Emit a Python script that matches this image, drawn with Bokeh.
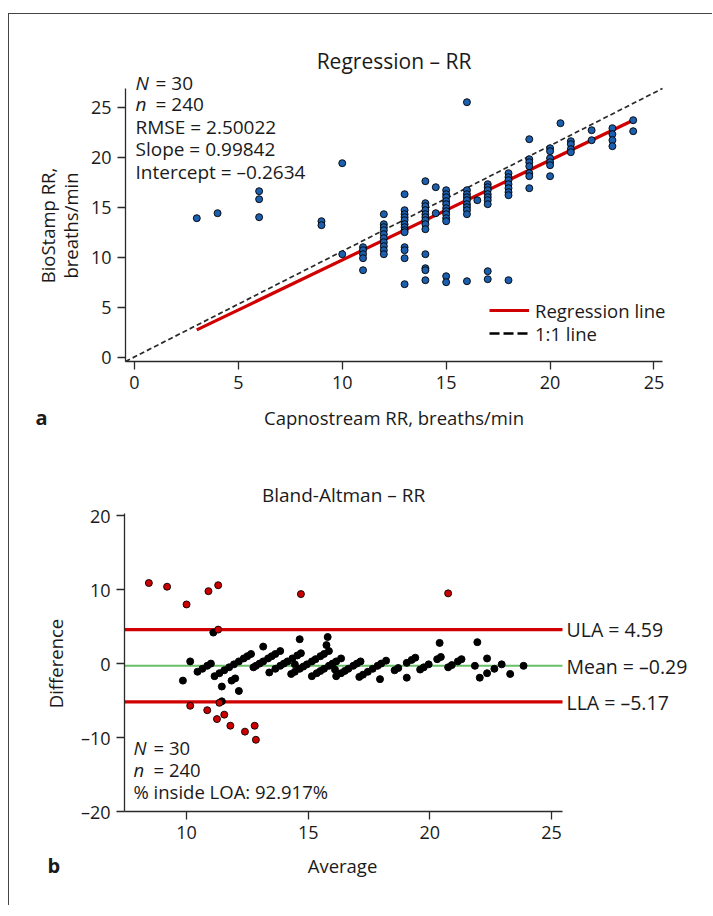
import math
from bokeh.plotting import figure
from bokeh.models import Label, Legend, LegendItem, Range1d, FixedTicker, ColumnDataSource
from bokeh.layouts import column
from bokeh.embed import file_html
from bokeh.resources import INLINE

# ---------------- data ----------------
capno = [3, 4, 6, 6, 6, 9, 9, 10, 10,
         11, 11, 11, 11, 11,
         12, 12, 12, 12, 12, 12, 12, 12, 12, 12,
         13, 13, 13, 13, 13, 13, 13, 13, 13, 13, 13, 13, 13,
         14, 14, 14, 14, 14, 14, 14, 14, 14, 14, 14, 14, 14,
         14.5, 14.5,
         15, 15, 15, 15, 15, 15, 15, 15, 15, 15, 15, 15,
         16, 16, 16, 16, 16, 16, 16, 16, 16, 16,
         16.5,
         17, 17, 17, 17, 17, 17, 17, 17, 17,
         18, 18, 18, 18, 18, 18, 18, 18,
         19, 19, 19, 19, 19, 19, 19,
         20, 20, 20, 20, 20, 20,
         20.5,
         21, 21, 21, 21,
         22, 22,
         23, 23, 23, 23,
         24, 24]
biostamp = [13.9, 14.4, 16.6, 15.8, 14.0, 13.6, 13.2, 19.4, 10.3,
            11.0, 10.7, 10.3, 9.9, 8.7,
            14.3, 13.3, 13.0, 12.7, 12.3, 11.9, 11.5, 11.1, 10.7, 10.3,
            16.3, 14.7, 14.3, 14.0, 13.7, 13.3, 13.0, 12.7, 12.5, 11.0, 10.7, 9.9, 7.3,
            17.6, 15.4, 15.1, 14.7, 14.3, 14.0, 13.7, 13.3, 12.8, 10.3, 8.9, 8.7, 7.7,
            17.0, 14.4,
            16.7, 16.3, 16.0, 15.6, 15.3, 14.9, 14.6, 14.3, 13.9, 13.6, 8.1, 7.5,
            25.5, 16.7, 16.3, 16.0, 15.7, 15.3, 15.0, 14.7, 14.3, 7.6,
            15.7,
            17.3, 17.0, 16.7, 16.3, 16.0, 15.7, 15.3, 8.6, 7.8,
            18.4, 18.0, 17.7, 17.3, 16.9, 16.5, 16.2, 7.7,
            21.8, 19.8, 19.5, 19.1, 18.4, 18.1, 16.9,
            20.9, 20.6, 19.9, 19.5, 19.2, 18.1,
            23.4,
            21.6, 21.3, 20.8, 20.5,
            22.7, 21.7,
            22.9, 22.3, 21.7, 21.1,
            23.7, 22.6]

N_SUBJ = 30
N_OBS = 240
RMSE = 2.50022
SLOPE = 0.99842
INTERCEPT = -0.2634
ULA = 4.59
MEAN_DIFF = -0.29
LLA = -5.17
PCT_INSIDE = 92.917

reg_x_ticks = [0, 5, 10, 15, 20, 25]
reg_y_ticks = [0, 5, 10, 15, 20, 25]
ba_x_ticks = [10, 15, 20, 25]
ba_y_ticks = [-20, -10, 0, 10, 20]

X_LIM = (-0.43, 25.41)
Y_LIM = (-0.43, 26.87)
BX_LIM = (7.45, 25.45)
BY_LIM = (-20, 20.3)

# ---------------- style / layout ----------------
FONT = "Open Sans"
TXT = "#1a1a1a"
AX = "#2a2a2a"
BLUE = "#1b5fae"
RED = "#d10000"
GREEN = "#6abf69"

CW = 703            # canvas width of each panel
OX, OY = 9, 14      # page position of the first canvas
H1C, H2C = 446, 445  # canvas heights

# axes boxes in page pixels (left, top, width, height)
L1, T1, W1, H1 = 125, 88, 537, 273
L2, T2, W2, H2 = 124, 513, 438, 298


def make_fig(xlim, ylim, L, T, W, H, top, hc):
    kx = (xlim[1] - xlim[0]) / W
    ky = (ylim[1] - ylim[0]) / H
    x0 = xlim[0] - (L - OX) * kx
    y0 = ylim[0] - (top + hc - (T + H)) * ky
    p = figure(frame_width=CW, frame_height=hc, min_border=0, output_backend="svg",
               toolbar_location=None,
               x_range=Range1d(x0, x0 + CW * kx), y_range=Range1d(y0, y0 + hc * ky))
    p.xgrid.visible = False
    p.ygrid.visible = False
    p.outline_line_color = None
    p.background_fill_color = None
    p.border_fill_color = None

    def fx(px):
        return x0 + (px - OX) * kx

    def fy(py):
        return y0 + (top + hc - py) * ky
    return p, fx, fy


def style_axes(p, xt, yt, xlim, ylim, yover=None):
    p.xaxis.ticker = FixedTicker(ticks=xt)
    p.yaxis.ticker = FixedTicker(ticks=yt)
    p.xaxis.fixed_location = ylim[0]
    p.yaxis.fixed_location = xlim[0]
    p.xaxis.bounds = xlim
    p.yaxis.bounds = ylim
    if yover:
        p.yaxis.major_label_overrides = yover
    for ax in (p.xaxis[0], p.yaxis[0]):
        ax.axis_line_color = AX
        ax.axis_line_width = 1.3
        ax.major_tick_line_color = AX
        ax.major_tick_line_width = 1.3
        ax.major_tick_out = 8
        ax.major_tick_in = 0
        ax.minor_tick_line_color = None
        ax.major_label_text_font = FONT
        ax.major_label_text_font_size = "18px"
        ax.major_label_text_color = TXT
        ax.major_label_standoff = 6


def add_label(p, x, y, text, size, align="left", style="normal", angle=0.0):
    p.add_layout(Label(x=x, y=y, text=text, text_font=FONT, text_font_size=size,
                       text_align=align, text_baseline="middle",
                       text_font_style=style, angle=angle, text_color=TXT))


# ---------------- regression panel ----------------
p1, tx, ty = make_fig(X_LIM, Y_LIM, L1, T1, W1, H1, OY, H1C)
style_axes(p1, reg_x_ticks, reg_y_ticks, X_LIM, Y_LIM)

p1.line(x=list(X_LIM), y=list(Y_LIM), line_color="#2a2a2a", line_width=1.7, line_dash="5 3")
rx = [min(capno), max(capno)]
ry = [SLOPE * v + INTERCEPT for v in rx]
reg = p1.line(x=rx, y=ry, line_color=RED, line_width=3.2)
p1.scatter(x=capno, y=biostamp, size=7, fill_color=BLUE, line_color="black", line_width=0.9)

# legend-only key for the 1:1 line (bolder dashes, as drawn in the figure's legend)
ident_key = p1.line(x=[float("nan")], y=[float("nan")], line_color="black",
                    line_width=2.6, line_dash="10 4")

for item, cy in ((LegendItem(label="Regression line", renderers=[reg]), 310),
                 (LegendItem(label="1:1 line", renderers=[ident_key]), 333)):
    p1.add_layout(Legend(items=[item], location=(489 - OX, OY + H1C - cy - 12.5),
                         glyph_width=40, glyph_height=20, label_height=20,
                         label_standoff=6, spacing=0, padding=0, margin=0,
                         border_line_color=None, background_fill_alpha=0,
                         label_text_font=FONT, label_text_font_size="18.5px",
                         label_text_color=TXT))

add_label(p1, tx(393.5), ty(60), "Regression – RR", "21px", align="center")
add_label(p1, tx(135), ty(82), "N", "19px", style="italic")
add_label(p1, tx(155), ty(82), f"= {N_SUBJ}", "19px")
add_label(p1, tx(135), ty(103.5), "n", "19px", style="italic")
add_label(p1, tx(155), ty(103.5), f"= {N_OBS}", "19px")
add_label(p1, tx(135), ty(126), f"RMSE = {RMSE}", "19px")
add_label(p1, tx(135), ty(148.5), f"Slope = {SLOPE}", "19px")
add_label(p1, tx(135), ty(171), f"Intercept = –{abs(INTERCEPT)}", "19px")
add_label(p1, tx(393.5), ty(417), "Capnostream RR, breaths/min", "18.5px", align="center")
add_label(p1, tx(47), ty(225), "BioStamp RR,", "18.5px", align="center", angle=math.pi / 2)
add_label(p1, tx(70), ty(225), "breaths/min", "18.5px", align="center", angle=math.pi / 2)
add_label(p1, tx(35), ty(417), "a", "20px", style="bold")

# ---------------- Bland-Altman panel ----------------
avg = [(a + b) / 2 for a, b in zip(capno, biostamp)]
diff = [b - a for a, b in zip(capno, biostamp)]
inside = [LLA <= d <= ULA for d in diff]

p2, bx, by = make_fig(BX_LIM, BY_LIM, L2, T2, W2, H2, OY + H1C, H2C)
style_axes(p2, ba_x_ticks, ba_y_ticks, BX_LIM, BY_LIM, {-10: "–10", -20: "–20"})

p2.line(x=list(BX_LIM), y=[ULA, ULA], line_color=RED, line_width=3.2)
p2.line(x=list(BX_LIM), y=[LLA, LLA], line_color=RED, line_width=3.2)
p2.line(x=list(BX_LIM), y=[MEAN_DIFF, MEAN_DIFF], line_color=GREEN, line_width=2)

src_in = ColumnDataSource(dict(x=[a for a, k in zip(avg, inside) if k],
                               y=[d for d, k in zip(diff, inside) if k]))
src_out = ColumnDataSource(dict(x=[a for a, k in zip(avg, inside) if not k],
                                y=[d for d, k in zip(diff, inside) if not k]))
p2.scatter(x="x", y="y", source=src_in, size=7, fill_color="black", line_color="black")
p2.scatter(x="x", y="y", source=src_out, size=7, fill_color="#cc0000", line_color="black",
           line_width=0.9)

add_label(p2, bx(343), by(494), "Bland-Altman – RR", "19px", align="center")
add_label(p2, bx(566), by(629), f"ULA = {ULA}", "19.5px")
add_label(p2, bx(566), by(665.5), f"Mean = –{abs(MEAN_DIFF)}", "19.5px")
add_label(p2, bx(566), by(701.5), f"LLA = –{abs(LLA)}", "19.5px")
add_label(p2, bx(133), by(747), "N", "18.5px", style="italic")
add_label(p2, bx(153), by(747), f"= {N_SUBJ}", "18.5px")
add_label(p2, bx(133), by(769), "n", "18.5px", style="italic")
add_label(p2, bx(153), by(769), f"= {N_OBS}", "18.5px")
add_label(p2, bx(133), by(791), f"% inside LOA: {PCT_INSIDE}%", "18.5px")
add_label(p2, bx(342), by(865), "Average", "18.5px", align="center")
add_label(p2, bx(55), by(663), "Difference", "18.5px", align="center", angle=math.pi / 2)
add_label(p2, bx(47), by(865), "b", "20px", style="bold")

layout = column(p1, p2, margin=(13, 0, 0, 8),
                styles={"border-left": "1.3px solid #444", "border-top": "1.3px solid #444"})

open("out.html", "w").write(file_html(layout, INLINE))
